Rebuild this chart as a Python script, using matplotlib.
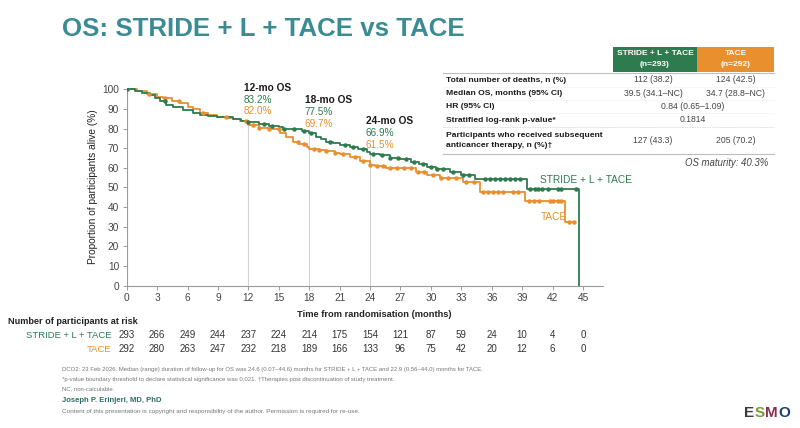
import matplotlib
matplotlib.use("Agg")
import matplotlib.pyplot as plt
from matplotlib.patches import Rectangle
from matplotlib.lines import Line2D
from matplotlib.transforms import blended_transform_factory
import numpy as np

plt.rcParams["font.family"] = ["Liberation Sans Narrow", "Liberation Sans", "DejaVu Sans"]

# ---- data ----
stride_t = [0, 0.8, 1.5, 2.3, 2.8, 3.3, 3.9, 4.6, 5.6, 6.5, 7.2, 8.0, 8.9, 10.5, 11.3, 12.0,
            13.0, 14.0, 15.0, 15.4, 17.3, 18.0, 18.7, 19.2, 19.7, 20.3, 21.0, 22.0, 22.8,
            23.7, 24.0, 25.0, 26.0, 27.0, 28.0, 28.8, 29.6, 30.5, 31.9, 33.0, 34.3, 39.5, 44.6]
stride_s = [100, 99, 98, 97, 95.5, 94, 92, 91, 89.4, 88, 86.9, 86.5, 85.7, 84.7, 84, 83.2,
            82.5, 81.5, 80.8, 80, 79, 77.5, 75.9, 74.5, 73.3, 72.5, 71.6, 70.5, 69.5,
            68.2, 66.9, 66.3, 65, 64.3, 63, 62, 60.3, 59.5, 58, 56.5, 54.2, 49.1, 0]
stride_cens = [0, 3.8, 12.0, 13.5, 14.3, 15.5, 16.5, 17.5, 18.2, 20.0, 21.5, 22.3, 23.3, 24.3,
               25.2, 26.0, 26.8, 27.5, 28.3, 29.2, 30.0, 30.6, 31.2, 32.2, 33.2, 33.8,
               35.3, 35.8, 36.3, 36.8, 37.3, 37.8, 38.3, 38.8,
               39.8, 40.3, 40.6, 41.0, 41.5, 42.5, 42.8, 44.3]

tace_t = [0, 1.0, 2.0, 3.0, 3.6, 4.5, 5.3, 6.0, 6.5, 7.2, 8.0, 8.9, 10.0, 10.5, 11.2, 12.0,
          13.0, 14.0, 15.1, 15.7, 16.4, 17.0, 17.8, 18.0, 19.0, 19.7, 20.5, 21.0, 22.0, 23.0,
          24.0, 24.5, 25.6, 27.6, 28.5, 29.6, 30.9, 33.2, 34.8, 39.3, 43.2, 44.1]
tace_s = [100, 99, 97.6, 96, 95.4, 94, 92.8, 91, 90, 87.8, 87, 86, 85.5, 84.7, 84, 82.0,
          80.5, 79.8, 77.6, 75.5, 73.3, 72, 70.8, 69.7, 69.2, 68.7, 67.5, 66.8, 65.7, 63.5,
          61.5, 61, 60.1, 59.8, 58, 56.4, 54.7, 53, 47.9, 43.3, 32.6, 32.6]
tace_cens = [0, 2.2, 3.8, 5.2, 7.5, 9.8, 11.8, 12.5, 13.0, 14.0, 15.0, 16.9, 17.5, 18.5, 19.0,
             19.7, 20.5, 21.3, 22.5, 23.3, 24.0, 24.7, 25.3, 26.0, 26.7, 27.3, 28.0, 28.7,
             29.3, 30.2, 31.0, 31.7, 32.5, 33.5, 34.2,
             35.1, 35.6, 36.1, 36.6, 37.1, 38.1, 38.6,
             39.7, 40.2, 40.7, 41.7, 42.0, 42.5, 42.8, 43.6, 44.1]

landmarks = [12, 18, 24]
landmark_labels = ["12-mo OS", "18-mo OS", "24-mo OS"]
stride_os = ["83.2%", "77.5%", "66.9%"]
tace_os = ["82.0%", "69.7%", "61.5%"]
stride_os_val = [83.2, 77.5, 66.9]

risk_months = list(range(0, 46, 3))
stride_risk = [293, 266, 249, 244, 237, 224, 214, 175, 154, 121, 87, 59, 24, 10, 4, 0]
tace_risk = [292, 280, 263, 247, 232, 218, 189, 166, 133, 96, 75, 42, 20, 12, 6, 0]

table_rows = ["Total number of deaths, n (%)", "Median OS, months (95% CI)", "HR (95% CI)",
              "Stratified log-rank p-value*",
              "Participants who received subsequent\nanticancer therapy, n (%)\u2020"]
stride_col = ["112 (38.2)", "39.5 (34.1\u2013NC)", None, None, "127 (43.3)"]
tace_col = ["124 (42.5)", "34.7 (28.8\u2013NC)", None, None, "205 (70.2)"]
shared_col = [None, None, "0.84 (0.65\u20131.09)", "0.1814", None]

footnotes = [
    "DCO2: 23 Feb 2026. Median (range) duration of follow-up for OS was 24.6 (0.07\u201344.6) months for STRIDE + L + TACE and 22.9 (0.56\u201344.0) months for TACE.",
    "*p-value boundary threshold to declare statistical significance was 0.021. \u2020Therapies post discontinuation of study treatment.",
    "NC, non-calculable.",
]

# ---- styling ----
GREEN = "#2e7b4f"
ORANGE = "#e98f2e"
TEAL = "#3b8b95"
GREY = "#9a9a9a"

W, H = 800, 428
fig = plt.figure(figsize=(W / 100, H / 100), dpi=100)


def fx(x):
    return x / W


def fy(y):
    return 1 - y / H


ax = fig.add_axes([fx(126.7), fy(285.7), fx(603.3) - fx(126.7), fy(87.9) - fy(285.7)])
ax.set_xlim(0, 47)
ax.set_ylim(0, 100.7)

ax.step(stride_t, stride_s, where="post", color=GREEN, lw=1.3, zorder=3)
ax.step(tace_t, tace_s, where="post", color=ORANGE, lw=1.3, zorder=2)


def surv_at(t_list, s_list, t):
    i = np.searchsorted(t_list, t, side="right") - 1
    return s_list[max(i, 0)]


ax.plot(stride_cens, [surv_at(stride_t, stride_s, t) for t in stride_cens], "o",
        color=GREEN, ms=2.2, zorder=4)
ax.plot(tace_cens, [surv_at(tace_t, tace_s, t) for t in tace_cens], "o",
        color=ORANGE, ms=2.2, zorder=3)

ax.vlines(landmarks, 0, stride_os_val, color="#d4d4d4", lw=0.8, zorder=1)

label_tops = [100.5, 94.3, 83.6]
step = 5.9
for lm, lab, gs, ts, top in zip(landmarks, landmark_labels, stride_os, tace_os, label_tops):
    ax.text(lm - 0.45, top, lab, fontsize=7.3, fontweight="bold", color="#1a1a1a", va="center")
    ax.text(lm - 0.45, top - step, gs, fontsize=7.2, color=GREEN, va="center")
    ax.text(lm - 0.45, top - 2 * step, ts, fontsize=7.2, color=ORANGE, va="center")

ax.text(40.8, 53.8, "STRIDE + L + TACE", fontsize=7.3, color=GREEN, va="center")
ax.text(40.8, 34.8, "TACE", fontsize=7.3, color=ORANGE, va="center")

ax.set_xticks(risk_months)
ax.set_yticks(range(0, 101, 10))
ax.tick_params(labelsize=7.3, length=3, width=0.7, pad=2.5, colors=GREY, labelcolor="#444444")
for side in ["top", "right"]:
    ax.spines[side].set_visible(False)
for side in ["left", "bottom"]:
    ax.spines[side].set_color(GREY)
    ax.spines[side].set_linewidth(0.8)
ax.set_ylabel("Proportion of participants alive (%)", fontsize=7.3, color="#222222", labelpad=3)

# x label and numbers at risk
tr = blended_transform_factory(ax.transData, fig.transFigure)
ax.text(24.4, fy(314.5), "Time from randomisation (months)", transform=tr, fontsize=6.7,
        fontweight="bold", color="#222222", ha="center", va="center")
fig.text(fx(8), fy(321), "Number of participants at risk", fontsize=6.6, fontweight="bold",
         color="#222222", va="center")
fig.text(fx(111), fy(335), "STRIDE + L + TACE", fontsize=6.8, color=GREEN, ha="right", va="center")
fig.text(fx(111), fy(349), "TACE", fontsize=6.8, color=ORANGE, ha="right", va="center")
for m, a, b in zip(risk_months, stride_risk, tace_risk):
    ax.text(m, fy(335), str(a), transform=tr, fontsize=7, color="#333333", ha="center", va="center")
    ax.text(m, fy(349), str(b), transform=tr, fontsize=7, color="#333333", ha="center", va="center")

# title
fig.text(fx(61.5), fy(29), "OS: STRIDE + L + TACE vs TACE", fontsize=18.6, fontweight="bold",
         color=TEAL, va="center")

# summary table
fig.add_artist(Rectangle((fx(612.7), fy(72.3)), fx(697.3) - fx(612.7), fy(46.7) - fy(72.3),
                         transform=fig.transFigure, color=GREEN, lw=0))
fig.add_artist(Rectangle((fx(697.3), fy(72.3)), fx(774.3) - fx(697.3), fy(46.7) - fy(72.3),
                         transform=fig.transFigure, color=ORANGE, lw=0))
fig.text(fx(655), fy(53.5), "STRIDE + L + TACE", fontsize=6, fontweight="bold", color="white",
         ha="center", va="center")
fig.text(fx(655), fy(65), "(n=293)", fontsize=6, fontweight="bold", color="white",
         ha="center", va="center")
fig.text(fx(736), fy(53.5), "TACE", fontsize=6, fontweight="bold", color="white",
         ha="center", va="center")
fig.text(fx(736), fy(65), "(n=292)", fontsize=6, fontweight="bold", color="white",
         ha="center", va="center")

row_y = [80, 93.3, 106.7, 120, 140.7]
for lab, yv, a, b, c in zip(table_rows, row_y, stride_col, tace_col, shared_col):
    fig.text(fx(446.5), fy(yv), lab, fontsize=6.1, fontweight="bold", color="#1a1a1a",
             va="center", linespacing=1.6)
    if a:
        fig.text(fx(653), fy(yv), a, fontsize=6.2, color="#444444", ha="center", va="center")
    if b:
        fig.text(fx(736), fy(yv), b, fontsize=6.2, color="#444444", ha="center", va="center")
    if c:
        fig.text(fx(693), fy(yv), c, fontsize=6.2, color="#444444", ha="center", va="center")

fig.add_artist(Line2D([fx(442.7), fx(774.3)], [fy(72.8)] * 2, transform=fig.transFigure,
                      color="#bdbdbd", lw=0.8))
for yl in [86.7, 100, 113.4]:
    fig.add_artist(Line2D([fx(442.7), fx(774.3)], [fy(yl)] * 2, transform=fig.transFigure,
                          color="#e6e6e6", lw=0.5, ls=(0, (1, 1))))
fig.add_artist(Line2D([fx(442.7), fx(774.3)], [fy(127.3)] * 2, transform=fig.transFigure,
                      color="#cfcfcf", lw=0.6, ls=(0, (1, 1))))
fig.add_artist(Line2D([fx(442.7), fx(774.3)], [fy(154)] * 2, transform=fig.transFigure,
                      color="#bdbdbd", lw=0.8))
fig.text(fx(768.5), fy(163.5), "OS maturity: 40.3%", fontsize=6.9, style="italic",
         color="#444444", ha="right", va="center")

# footnotes
for yv, line in zip([369.5, 379.3, 388.5], footnotes):
    fig.text(fx(62), fy(yv), line, fontsize=4.35, color="#777777", va="center")
fig.text(fx(62), fy(400.5), "Joseph P. Erinjeri, MD, PhD", fontsize=5.5, fontweight="bold",
         color="#2c6d67", va="center")
fig.text(fx(62), fy(412), "Content of this presentation is copyright and responsibility of the author. "
         "Permission is required for re-use.", fontsize=4.6, color="#777777", va="center")

# ESMO mark, letters laid side by side from their rendered widths
renderer = fig.canvas.get_renderer()
logo_x = fx(744)
for ch, col in zip("ESMO", ["#3a3a3a", "#7a9b3c", "#8c2f52", "#1f3f6e"]):
    t = fig.text(logo_x, fy(413), ch, fontsize=11, fontweight="bold", color=col, va="center")
    bb = t.get_window_extent(renderer)
    logo_x += bb.width / W + 0.0005

fig.savefig("out.png", dpi=100)
